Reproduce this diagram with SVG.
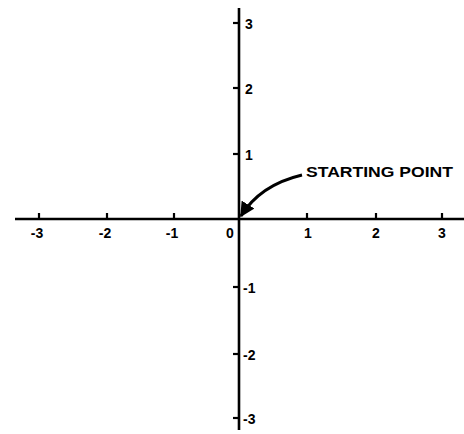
<svg xmlns="http://www.w3.org/2000/svg" width="464" height="434" viewBox="0 0 464 434">
<defs>
<marker id="ah" viewBox="0 0 10 10" refX="9" refY="5" markerWidth="5" markerHeight="5" orient="auto" markerUnits="strokeWidth">
<path d="M0,0 L10,5 L0,10 z" fill="#000"/>
</marker>
<style>
.ax{stroke:#000;stroke-width:2.6;fill:none}
.tk{stroke:#000;stroke-width:2.2}
.lb{font-family:"Liberation Sans",Arial,sans-serif;font-weight:bold;font-size:14px;fill:#000}
</style>
</defs>
<rect width="464" height="434" fill="#fff"/>
<g id="axes">
<line class="ax" x1="15" y1="219" x2="464" y2="219"/>
<line class="ax" x1="239" y1="8" x2="239" y2="430"/>
</g>
<g id="xticks">
<line class="tk" x1="39" y1="213" x2="39" y2="219"/>
<line class="tk" x1="107" y1="213" x2="107" y2="219"/>
<line class="tk" x1="174" y1="213" x2="174" y2="219"/>
<line class="tk" x1="307" y1="213" x2="307" y2="219"/>
<line class="tk" x1="376" y1="213" x2="376" y2="219"/>
<line class="tk" x1="442" y1="213" x2="442" y2="219"/>
</g>
<g id="yticks">
<line class="tk" x1="233" y1="23" x2="239" y2="23"/>
<line class="tk" x1="233" y1="88" x2="239" y2="88"/>
<line class="tk" x1="233" y1="154" x2="239" y2="154"/>
<line class="tk" x1="233" y1="287" x2="239" y2="287"/>
<line class="tk" x1="233" y1="354" x2="239" y2="354"/>
<line class="tk" x1="233" y1="418" x2="239" y2="418"/>
</g>
<g id="xlabels" class="lb" text-anchor="middle">
<text x="37" y="238">-3</text>
<text x="105" y="238">-2</text>
<text x="172" y="238">-1</text>
<text x="230" y="238">0</text>
<text x="308" y="238">1</text>
<text x="376" y="238">2</text>
<text x="442" y="238">3</text>
</g>
<g id="ylabels" class="lb">
<text x="245" y="29">3</text>
<text x="245" y="94">2</text>
<text x="245" y="160">1</text>
<text x="243" y="293">-1</text>
<text x="243" y="360">-2</text>
<text x="243" y="424">-3</text>
</g>
<g id="connectors">
<path d="M302,175 Q260,185 241,216" fill="none" stroke="#000" stroke-width="3" marker-end="url(#ah)"/>
</g>
<g id="starting-point">
<text class="lb" x="306" y="177" font-size="15" textLength="147" lengthAdjust="spacingAndGlyphs">STARTING POINT</text>
</g>
</svg>
